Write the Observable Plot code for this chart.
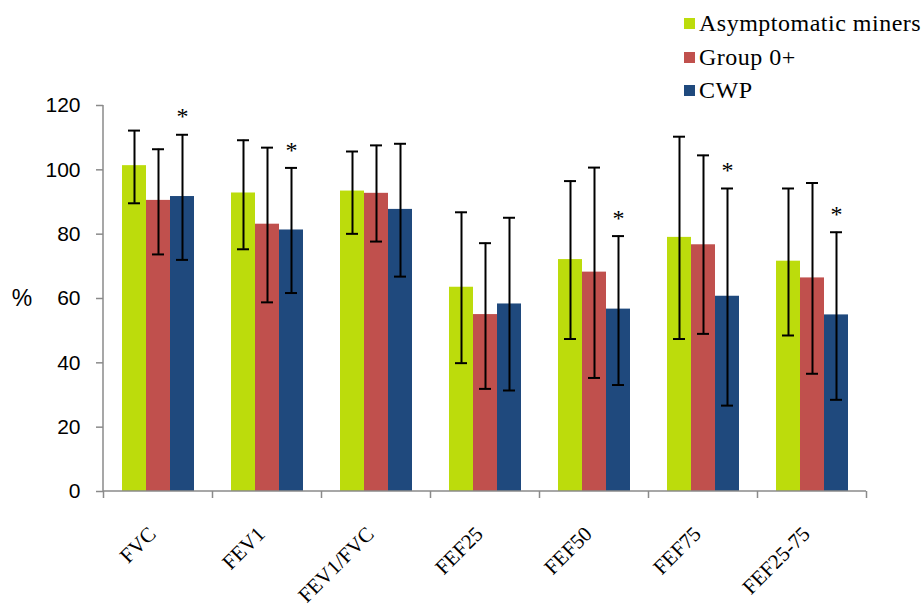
<!DOCTYPE html>
<html><head><meta charset="utf-8">
<script src="https://cdn.jsdelivr.net/npm/d3@7"></script>
<script src="https://cdn.jsdelivr.net/npm/@observablehq/plot@0.6"></script>
<style>
body{margin:0;background:#fff}
#wrap{position:relative;width:922px;height:607px}
.legend{position:absolute;left:684px;top:7px;font-family:"Liberation Serif","Times New Roman",serif;font-size:24px;letter-spacing:0.5px;color:#000}
.row{display:flex;align-items:center;height:33.5px}
.sw{width:11px;height:11px;margin-right:4px}
</style></head><body>
<div id="wrap"><div class="legend" id="legend"></div></div>
<script>
const metrics = ["FVC","FEV1","FEV1/FVC","FEF25","FEF50","FEF75","FEF25-75"];
const groups = ["Asymptomatic miners","Group 0+","CWP"];
const colors = ["#BCDC0C","#C0504D","#1F497D"];

const asymMean = [101.3, 92.8, 93.4, 63.5, 72.1, 79.0, 71.6];
const asymHigh = [112.2, 109.2, 105.7, 86.8, 96.5, 110.3, 94.2];
const asymLow  = [89.6, 75.3, 80.1, 39.9, 47.4, 47.4, 48.5];

const g0Mean = [90.5, 83.1, 92.7, 55.0, 68.2, 76.7, 66.4];
const g0High = [106.4, 106.9, 107.6, 77.2, 100.7, 104.5, 95.9];
const g0Low  = [73.7, 58.8, 77.7, 31.9, 35.3, 49.0, 36.6];

const cwpMean = [91.7, 81.3, 87.7, 58.3, 56.7, 60.7, 54.9];
const cwpHigh = [110.9, 100.6, 108.1, 85.1, 79.4, 94.2, 80.6];
const cwpLow  = [72.0, 61.7, 66.8, 31.4, 33.1, 26.7, 28.5];

const cwpSignificant = [true, true, false, false, true, true, true];
const yTicks = [0, 20, 40, 60, 80, 100, 120];

const series = [
  {group: groups[0], mean: asymMean, high: asymHigh, low: asymLow, sig: metrics.map(() => false)},
  {group: groups[1], mean: g0Mean, high: g0High, low: g0Low, sig: metrics.map(() => false)},
  {group: groups[2], mean: cwpMean, high: cwpHigh, low: cwpLow, sig: cwpSignificant}
];
const data = [];
for (const s of series) metrics.forEach((m, i) => data.push({metric: m, group: s.group, mean: s.mean[i], high: s.high[i], low: s.low[i], sig: s.sig[i]}));

const axisColor = "#8a8a8a";
const W = 922, H = 607;
const M = {left: 103, right: 56, top: 105, bottom: 116};

// shift a left-facet mark so it sits on the left edge of the whole frame
function toFrameLeft(index, scales, values, dims, context, next) {
  const g = next(index, scales, values, dims, context);
  if (!g) return g;
  const wrap = document.createElementNS("http://www.w3.org/2000/svg", "g");
  const shift = scales.fx ? scales.fx(metrics[0]) - M.left : 0;
  wrap.setAttribute("transform", `translate(${-shift},0)`);
  wrap.appendChild(g);
  return wrap;
}

const plot = Plot.plot({
  width: W, height: H,
  marginLeft: M.left, marginRight: M.right, marginTop: M.top, marginBottom: M.bottom,
  style: {fontFamily: "'Liberation Sans', Arial, sans-serif", background: "transparent"},
  fx: {domain: metrics, paddingInner: 0.34, paddingOuter: 0.17, axis: null, label: null},
  x: {domain: groups, padding: 0, axis: null},
  y: {domain: [0, 120], axis: null},
  color: {domain: groups, range: colors},
  marks: [
    Plot.barY(data, {fx: "metric", x: "group", y: "mean", fill: "group"}),
    Plot.ruleX(data, {fx: "metric", x: "group", y1: "low", y2: "high", stroke: "#000", strokeWidth: 2}),
    Plot.tickY(data, {fx: "metric", x: "group", y: "high", stroke: "#000", strokeWidth: 2, insetLeft: 6, insetRight: 6}),
    Plot.tickY(data, {fx: "metric", x: "group", y: "low", stroke: "#000", strokeWidth: 2, insetLeft: 6, insetRight: 6}),
    Plot.text(data.filter(d => d.sig), {fx: "metric", x: "group", y: "high", text: () => "*", dy: -18, fontSize: 24, fontFamily: "'Liberation Serif', serif", fill: "#000"}),
    Plot.axisY({ticks: yTicks, tickSize: 7, text: null, stroke: axisColor, strokeWidth: 1.5, render: toFrameLeft}),
    Plot.axisY({ticks: yTicks, tickSize: 0, tickPadding: 23, fontSize: 21, fill: "#000", render: toFrameLeft}),
    Plot.axisFx({anchor: "bottom", label: null, tickSize: 0, tickPadding: 39, tickRotate: -45, textAnchor: "end", fontSize: 21, fontFamily: "'Liberation Serif', serif", dx: -6, fill: "#000"}),
    Plot.frame({facet: "super", render: (index, scales) => {
      const g = d3.create("svg:g");
      const y0 = scales.y(0), yTop = scales.y(120);
      const x0 = M.left, x1 = W - M.right;
      const ax = g.append("g").attr("stroke", axisColor).attr("stroke-width", 1.5).attr("fill", "none");
      ax.append("line").attr("x1", x0).attr("x2", x0).attr("y1", yTop).attr("y2", y0);
      ax.append("line").attr("x1", x0).attr("x2", x1).attr("y1", y0).attr("y2", y0);
      const fx = scales.fx;
      if (fx && fx.step) {
        const half = (fx.step() - fx.bandwidth()) / 2;
        const bounds = metrics.map(m => fx(m) - half).concat([fx(metrics[metrics.length - 1]) + fx.bandwidth() + half]);
        for (const b of bounds) ax.append("line").attr("x1", b).attr("x2", b).attr("y1", y0).attr("y2", y0 + 7);
      }
      g.append("text").attr("x", x0 - 81).attr("y", (y0 + yTop) / 2).attr("dy", "0.35em")
        .attr("text-anchor", "middle").attr("font-size", 23).attr("fill", "#000").text("%");
      return g.node();
    }})
  ]
});
document.getElementById("wrap").prepend(plot);

const legend = d3.select("#legend");
groups.forEach((gname, i) => {
  const row = legend.append("div").attr("class", "row");
  row.append("div").attr("class", "sw").style("background", colors[i]);
  row.append("span").text(gname);
});
</script>
</body></html>
